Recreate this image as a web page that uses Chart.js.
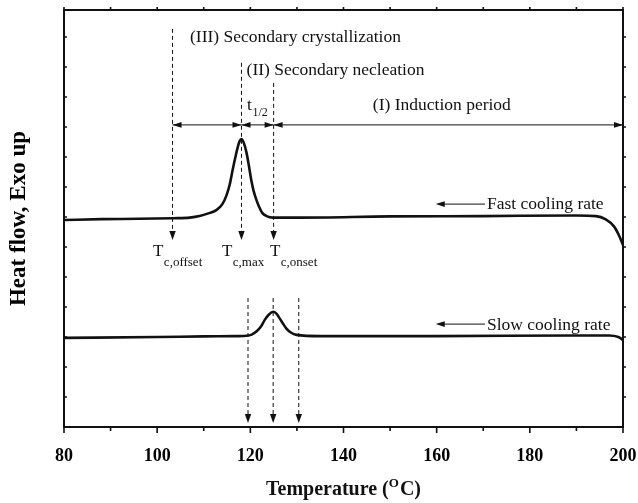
<!DOCTYPE html>
<html>
<head>
<meta charset="utf-8">
<script src="https://cdn.jsdelivr.net/npm/chart.js@4.4.1/dist/chart.umd.min.js"></script>
<style>
  html, body { margin: 0; padding: 0; background: #fff; }
  canvas { display: block; }
</style>
</head>
<body>
<canvas id="dsc" width="638" height="503"></canvas>
<script>
// DSC cooling scans: temperature (°C) and heat flow (arbitrary units, exo up)
const fastTemp = [80, 88, 96, 103.4, 107, 109.1, 111, 112.7, 114, 114.9, 115.6, 116.2, 116.8, 117.3, 117.7, 118.1,
                  118.6, 119.2, 119.7, 120.2, 120.7, 121.3, 122, 122.6, 123.5, 124.8, 130.6, 150, 170, 190,
                  194.2, 196.3, 198.1, 199.1, 200];
const fastHeat = [6.90, 6.93, 6.94, 6.96, 6.98, 7.03, 7.12, 7.23, 7.43, 7.73, 8.10, 8.57, 9.00, 9.33, 9.53, 9.60,
                  9.47, 9.13, 8.70, 8.23, 7.87, 7.57, 7.30, 7.13, 7.03, 6.98, 6.98, 7.02, 7.03, 7.05,
                  7.03, 6.92, 6.68, 6.40, 6.07];

const slowTemp = [80, 100, 110, 117, 119.2, 120.3, 121.3, 122.2, 123.1, 124, 124.9, 125.6, 126.3, 127, 127.7,
                  128.7, 129.9, 135, 160, 190, 197, 199, 200];
const slowHeat = [2.97, 3.00, 3.02, 3.03, 3.04, 3.08, 3.18, 3.33, 3.57, 3.75, 3.84, 3.78, 3.62, 3.45, 3.29,
                  3.15, 3.07, 3.03, 3.03, 3.05, 3.05, 3.00, 2.90];

// Axis ticks
const xMajorTicks = [80, 100, 120, 140, 160, 180, 200];
const xMinorTicks = [90, 110, 130, 150, 170, 190];
const yTicks = [1, 2, 3, 4, 5, 6, 7, 8, 9, 10, 11, 12, 13];

// Characteristic temperatures of the fast scan: offset, peak, onset
const fastMarkTemps = [103.3, 118.1, 125.0];
const fastMarkNames = ['c,offset', 'c,max', 'c,onset'];
// Characteristic temperatures of the slow scan
const slowMarkTemps = [119.5, 124.9, 130.4];

const SERIF = '"Liberation Serif", "Times New Roman", serif';
const INK = '#111';

function headAt(ctx, x, y, angle, len, half) {
  ctx.save();
  ctx.translate(x, y);
  ctx.rotate(angle);
  ctx.beginPath();
  ctx.moveTo(0, 0);
  ctx.lineTo(-len, -half);
  ctx.lineTo(-len, half);
  ctx.closePath();
  ctx.fill();
  ctx.restore();
}

function doubleArrow(ctx, x1, x2, y) {
  ctx.beginPath();
  ctx.moveTo(x1, y);
  ctx.lineTo(x2, y);
  ctx.stroke();
  headAt(ctx, x1, y, Math.PI, 9, 2.8);
  headAt(ctx, x2, y, 0, 9, 2.8);
}

function dashedDown(ctx, x, yTop, yTip) {
  ctx.save();
  ctx.setLineDash([4, 3]);
  ctx.beginPath();
  ctx.moveTo(x, yTop);
  ctx.lineTo(x, yTip - 6);
  ctx.stroke();
  ctx.restore();
  headAt(ctx, x, yTip, Math.PI / 2, 9, 3.2);
}

function subText(ctx, x, y, main, sub, mainSize, subSize, drop) {
  ctx.font = mainSize + 'px ' + SERIF;
  ctx.fillText(main, x, y);
  const w = ctx.measureText(main).width;
  ctx.font = subSize + 'px ' + SERIF;
  ctx.fillText(sub, x + w + 0.5, y + drop);
}

const decorations = {
  id: 'decorations',
  afterDatasetsDraw(chart) {
    const { ctx, chartArea: a, scales: { x, y } } = chart;
    const X = v => x.getPixelForValue(v);
    const Y = v => y.getPixelForValue(v);
    ctx.save();
    ctx.fillStyle = INK;
    ctx.strokeStyle = INK;

    // frame
    ctx.lineWidth = 2;
    ctx.strokeRect(a.left, a.top, a.right - a.left, a.bottom - a.top);

    // x ticks: bottom outward, top outward
    ctx.lineWidth = 1.6;
    ctx.beginPath();
    xMajorTicks.forEach(t => {
      ctx.moveTo(X(t), a.bottom); ctx.lineTo(X(t), a.bottom + 6);
      ctx.moveTo(X(t), a.top); ctx.lineTo(X(t), a.top - 3);
    });
    xMinorTicks.forEach(t => {
      ctx.moveTo(X(t), a.bottom); ctx.lineTo(X(t), a.bottom + 4);
      ctx.moveTo(X(t), a.top); ctx.lineTo(X(t), a.top - 3);
    });
    // y ticks: left inward, right outward
    yTicks.forEach(t => {
      ctx.moveTo(a.left, Y(t)); ctx.lineTo(a.left + 3, Y(t));
      ctx.moveTo(a.right, Y(t)); ctx.lineTo(a.right + 3, Y(t));
    });
    ctx.stroke();

    // fast scan markers
    ctx.lineWidth = 1;
    const tops = [13.27, 12.14, 11.47];
    fastMarkTemps.forEach((t, i) => dashedDown(ctx, X(t), Y(tops[i]), Y(6.23)));
    // slow scan markers
    slowMarkTemps.forEach(t => dashedDown(ctx, X(t), Y(4.3), Y(0.13)));

    // stage arrows
    const rowY = Y(10.07);
    doubleArrow(ctx, X(fastMarkTemps[0]), X(fastMarkTemps[1]), rowY);
    doubleArrow(ctx, X(fastMarkTemps[1]), X(fastMarkTemps[2]), rowY);
    doubleArrow(ctx, X(fastMarkTemps[2]), X(200), rowY);

    // stage labels
    ctx.textBaseline = 'alphabetic';
    ctx.textAlign = 'left';
    ctx.font = '17.5px ' + SERIF;
    ctx.fillText('(III) Secondary crystallization', X(107.05), Y(12.83));
    ctx.fillText('(II) Secondary necleation', X(119.2), Y(11.73));
    ctx.fillText('(I) Induction period', X(146.3), Y(10.58));
    subText(ctx, X(119.3), Y(10.57), 't', '1/2', 17.5, 12, 6);

    // temperature labels under the fast scan
    const labelLeft = [99.1, 113.9, 124.2];
    fastMarkNames.forEach((n, i) => subText(ctx, X(labelLeft[i]), Y(5.7), 'T', n, 17, 13, 10));

    // curve labels
    ctx.lineWidth = 1;
    [[7.43, 7.27, 'Fast cooling rate'], [3.43, 3.23, 'Slow cooling rate']].forEach(([ay, ty, txt]) => {
      const yy = Y(ay);
      ctx.beginPath();
      ctx.moveTo(X(160.5), yy);
      ctx.lineTo(X(170.4), yy);
      ctx.stroke();
      headAt(ctx, X(159.8), yy, Math.PI, 9, 2.8);
      ctx.font = '17.5px ' + SERIF;
      ctx.fillText(txt, X(170.8), Y(ty));
    });

    // x axis title with superscript
    const big = 'bold 20px ' + SERIF, small = 'bold 13px ' + SERIF;
    ctx.font = big;
    const w1 = ctx.measureText('Temperature (').width;
    const w3 = ctx.measureText('C)').width;
    ctx.font = small;
    const w2 = ctx.measureText('O').width + 1;
    const cx = (a.left + a.right) / 2;
    let sx = cx - (w1 + w2 + w3) / 2;
    const by = 495;
    ctx.font = big;
    ctx.fillText('Temperature (', sx, by);
    ctx.font = small;
    ctx.fillText('O', sx + w1, by - 8);
    ctx.font = big;
    ctx.fillText('C)', sx + w1 + w2, by);

    ctx.restore();
  }
};

const toPoints = (xs, ys) => xs.map((t, i) => ({ x: t, y: ys[i] }));

new Chart(document.getElementById('dsc'), {
  type: 'line',
  data: {
    datasets: [
      { label: 'Fast cooling rate', data: toPoints(fastTemp, fastHeat) },
      { label: 'Slow cooling rate', data: toPoints(slowTemp, slowHeat) }
    ]
  },
  options: {
    responsive: false,
    animation: false,
    devicePixelRatio: 1,
    layout: { padding: { left: 0, right: 15, top: 10, bottom: 0 } },
    elements: {
      line: { borderColor: INK, borderWidth: 2.6, cubicInterpolationMode: 'monotone', fill: false },
      point: { radius: 0 }
    },
    plugins: { legend: { display: false }, tooltip: { enabled: false } },
    scales: {
      x: {
        type: 'linear', min: 80, max: 200,
        afterBuildTicks(s) { s.ticks = xMajorTicks.map(v => ({ value: v })); },
        afterFit(s) { s.height = 76; s.paddingLeft = 0; s.paddingRight = 0; },
        grid: { display: false },
        border: { display: false },
        ticks: {
          autoSkip: false, maxRotation: 0, padding: 11, color: '#000',
          font: { family: SERIF, size: 18, weight: 'bold' }
        }
      },
      y: {
        type: 'linear', min: 0, max: 13.9,
        afterFit(s) { s.width = 64; },
        grid: { display: false },
        border: { display: false },
        ticks: { display: false },
        title: {
          display: true, text: 'Heat flow, Exo up', color: '#000',
          padding: { top: 5, bottom: 0 },
          font: { family: SERIF, size: 23, weight: 'bold' }
        }
      }
    }
  },
  plugins: [decorations]
});
</script>
</body>
</html>
